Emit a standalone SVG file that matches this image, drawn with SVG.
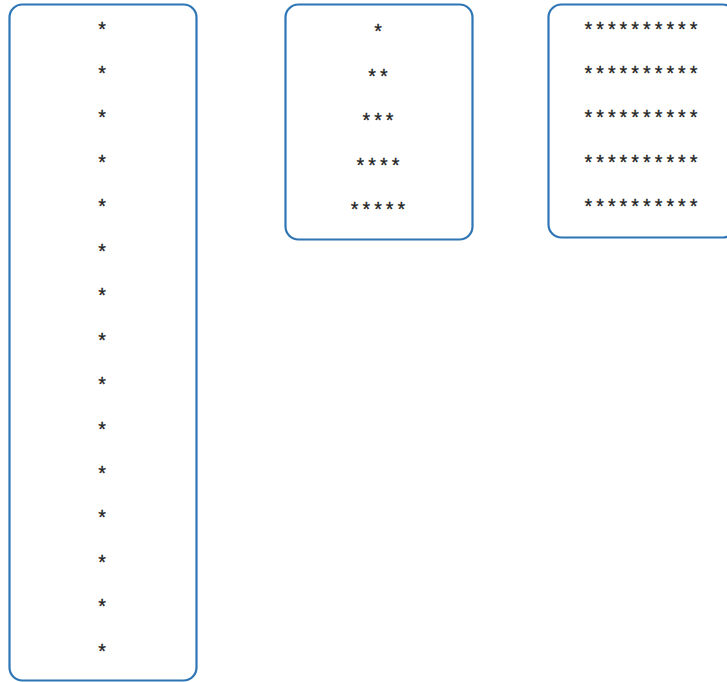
<svg xmlns="http://www.w3.org/2000/svg" width="727" height="682" viewBox="0 0 727 682">
<style>
.box{fill:#fff;stroke:#2e75b6;stroke-width:2.2}
.s{font-family:"Liberation Mono",monospace;font-size:19.5px;fill:#222;stroke:#222;stroke-width:0.3;text-anchor:middle}
</style>
<rect width="727" height="682" fill="#fff"/>
<g id="node1">
<rect class="box" x="9.5" y="4.5" width="187" height="676" rx="13"/>
<text class="s" x="102" y="37">*</text>
<text class="s" x="102" y="81">*</text>
<text class="s" x="102" y="125">*</text>
<text class="s" x="102" y="170">*</text>
<text class="s" x="102" y="214">*</text>
<text class="s" x="102" y="259">*</text>
<text class="s" x="102" y="303">*</text>
<text class="s" x="102" y="348">*</text>
<text class="s" x="102" y="392">*</text>
<text class="s" x="102" y="437">*</text>
<text class="s" x="102" y="481">*</text>
<text class="s" x="102" y="525">*</text>
<text class="s" x="102" y="570">*</text>
<text class="s" x="102" y="614">*</text>
<text class="s" x="102" y="659">*</text>
</g>
<g id="node2">
<rect class="box" x="285.5" y="4.5" width="187" height="235" rx="13"/>
<text class="s" x="378" y="39">*</text>
<text class="s" x="378" y="84">**</text>
<text class="s" x="378" y="128">***</text>
<text class="s" x="378" y="173">****</text>
<text class="s" x="378" y="217">*****</text>
</g>
<g id="node3">
<rect class="box" x="548.5" y="4.5" width="187" height="233" rx="13"/>
<text class="s" x="641" y="37">**********</text>
<text class="s" x="641" y="81">**********</text>
<text class="s" x="641" y="125">**********</text>
<text class="s" x="641" y="170">**********</text>
<text class="s" x="641" y="214">**********</text>
</g>
<g id="connectors"/>
</svg>
